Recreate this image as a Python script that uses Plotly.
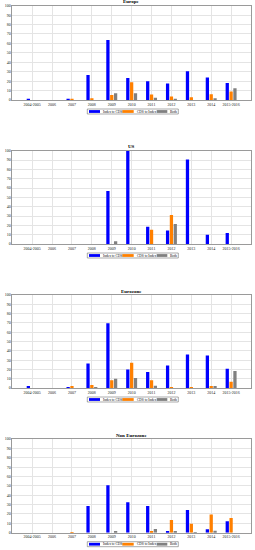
import plotly.graph_objects as go

categories = ["2004-2005", "2006", "2007", "2008", "2009", "2010", "2011", "2012", "2013", "2014", "2015-2016"]
series_names = ["Index to CDS", "CDS to Index", "Both"]
colors = ["#0000FF", "#FF8000", "#808080"]

panel_titles = ["Europe", "US", "Eurozone", "Non Eurozone"]

europe_index_to_cds = [1.0, 0, 0.7, 26.4, 63.6, 23.2, 20.0, 17.5, 30.4, 23.9, 17.9]
europe_cds_to_index = [0, 0, 1.2, 1.8, 5.4, 18.9, 5.7, 3.6, 2.9, 6.1, 8.9]
europe_both = [0, 0, 0, 0, 7.1, 7.1, 2.5, 0.7, 0, 1.8, 12.5]

us_index_to_cds = [0, 0, 0, 0, 56.8, 100.0, 18.6, 14.6, 90.7, 10.0, 11.8]
us_cds_to_index = [0, 0, 0, 0, 0, 0, 15.4, 31.0, 0, 0, 0]
us_both = [0, 0, 0, 0, 2.9, 0, 0, 21.4, 0, 0, 0]

eurozone_index_to_cds = [1.5, 0, 0.5, 26.4, 69.6, 20.0, 17.1, 24.3, 36.0, 35.0, 20.7]
eurozone_cds_to_index = [0, 0, 1.5, 3.2, 8.2, 27.1, 8.2, 0.3, 0.3, 1.4, 6.8]
eurozone_both = [0, 0, 0, 0.3, 10.0, 10.7, 2.5, 0, 0, 2.1, 18.2]

noneuro_index_to_cds = [0, 0, 0, 28.6, 50.7, 32.5, 28.6, 1.4, 24.3, 3.6, 12.1]
noneuro_cds_to_index = [0, 0, 0.3, 0, 0, 0, 1.8, 13.6, 9.6, 19.3, 15.7]
noneuro_both = [0, 0, 0, 0, 1.8, 0, 3.9, 1.8, 0.3, 2.1, 0]

y_ticks = [0, 10, 20, 30, 40, 50, 60, 70, 80, 90, 100]

panels = [
    [europe_index_to_cds, europe_cds_to_index, europe_both],
    [us_index_to_cds, us_cds_to_index, us_both],
    [eurozone_index_to_cds, eurozone_cds_to_index, eurozone_both],
    [noneuro_index_to_cds, noneuro_cds_to_index, noneuro_both],
]

W, H = 255, 550
# pixel top/bottom of each panel's plot area
panel_px = [(5.7, 100.0), (150.7, 244.0), (295.0, 388.0), (439.0, 532.7)]
x_dom = [12.3 / W, 251.0 / W]

fig = go.Figure()
serif = "Liberation Serif"
shapes = []
annotations = []

for i, (vals, (top, bot)) in enumerate(zip(panels, panel_px)):
    ax = "" if i == 0 else str(i + 1)
    for s in range(3):
        fig.add_trace(go.Bar(
            x=categories, y=vals[s], name=series_names[s],
            marker=dict(color=colors[s], line=dict(width=0)),
            xaxis="x" + ax, yaxis="y" + ax, showlegend=False,
        ))
    dom = [1 - bot / H, 1 - top / H]
    xa = dict(
        domain=x_dom, anchor="y" + ax, type="category", range=[-1, 11],
        showgrid=True, gridcolor="#e4e4e4", gridwidth=0.5,
        showline=True, linecolor="#9a9a9a", linewidth=0.6, mirror=True,
        ticks="", tickfont=dict(family=serif, size=4, color="#222"),
        automargin=False, zeroline=False,
    )
    ya = dict(
        domain=dom, anchor="x" + ax, range=[0, 100], tickvals=y_ticks,
        showgrid=True, gridcolor="#e4e4e4", gridwidth=0.5,
        showline=True, linecolor="#9a9a9a", linewidth=0.6, mirror=True,
        ticks="", tickfont=dict(family=serif, size=4, color="#222"),
        automargin=False, zeroline=False,
    )
    fig.update_layout(**{"xaxis" + ax: xa, "yaxis" + ax: ya})

    # title
    annotations.append(dict(
        text="<b>" + panel_titles[i] + "</b>", xref="paper", yref="paper",
        x=(x_dom[0] + x_dom[1]) / 2, y=1 - top / H, xanchor="center", yanchor="bottom",
        showarrow=False, font=dict(family=serif, size=5, color="#000"), yshift=-0.5,
    ))

    # legend box (manual, compact)
    cy = bot + 11.5
    y0, y1 = 1 - (cy + 2.5) / H, 1 - (cy - 2.5) / H
    shapes.append(dict(type="rect", xref="paper", yref="paper",
                       x0=87.3 / W, x1=178.3 / W, y0=y0, y1=y1,
                       line=dict(color="#555", width=0.5), fillcolor="white", layer="above"))
    sw = [(89.0, 100.0, 101.0), (122.3, 133.7, 134.5), (156.7, 167.3, 168.2)]
    for s, (a, b, t) in enumerate(sw):
        shapes.append(dict(type="rect", xref="paper", yref="paper",
                           x0=a / W, x1=b / W, y0=1 - (cy + 1.4) / H, y1=1 - (cy - 1.4) / H,
                           line=dict(width=0), fillcolor=colors[s], layer="above"))
        annotations.append(dict(
            text=series_names[s], xref="paper", yref="paper", x=t / W, y=1 - cy / H,
            xanchor="left", yanchor="middle", showarrow=False,
            font=dict(family=serif, size=3.5, color="#000"),
        ))

fig.update_layout(
    width=W, height=H, margin=dict(l=0, r=0, t=0, b=0),
    paper_bgcolor="white", plot_bgcolor="white",
    barmode="group", bargap=0.42, bargroupgap=0.15,
    shapes=shapes, annotations=annotations, showlegend=False,
)

fig.write_html(
    "out.html",
    config={"displayModeBar": False},
    post_script="document.body.style.margin='0';document.body.style.padding='0';document.body.style.overflow='hidden';",
)
